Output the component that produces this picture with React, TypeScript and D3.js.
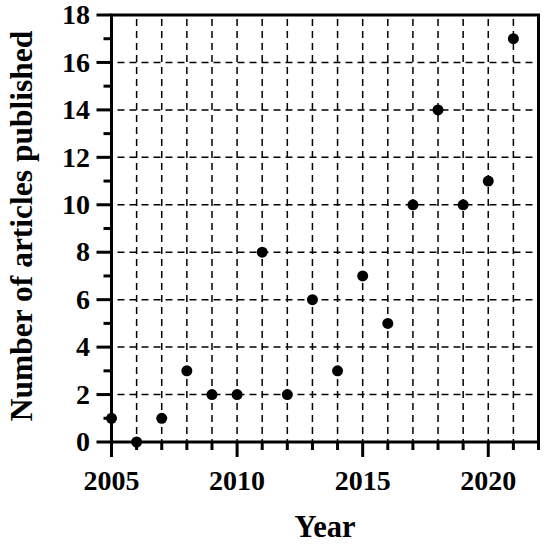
import React from "react";
import * as d3 from "d3";

const years = [2005, 2006, 2007, 2008, 2009, 2010, 2011, 2012, 2013, 2014, 2015, 2016, 2017, 2018, 2019, 2020, 2021];
const articles = [1, 0, 1, 3, 2, 2, 8, 2, 6, 3, 7, 5, 10, 14, 10, 11, 17];
const xTickLabels = [2005, 2010, 2015, 2020];
const yTickLabels = [0, 2, 4, 6, 8, 10, 12, 14, 16, 18];

const W = 550, H = 544;
const left = 111.5, right = 538.5, top = 15, bottom = 442;

export default function App() {
  const x = d3.scaleLinear().domain([2005, 2022]).range([left, right]);
  const y = d3.scaleLinear().domain([0, 18]).range([bottom, top]);
  const font = "'Liberation Serif', 'Times New Roman', serif";
  const xMinor = d3.range(2005, 2023);
  const yMinor = d3.range(0, 19);
  const vGrid = d3.range(2006, 2022);
  const hGrid = [2, 4, 6, 8, 10, 12, 14, 16];
  return (
    <svg width={W} height={H} style={{ position: "absolute", left: 0, top: 0, background: "#fff" }}>
      <g stroke="#000" strokeWidth={1.5} strokeDasharray="7,5" fill="none">
        {vGrid.map((v) => (
          <line key={"vg" + v} x1={x(v)} x2={x(v)} y1={top + 4} y2={bottom} />
        ))}
        {hGrid.map((v) => (
          <line key={"hg" + v} x1={left + 6} x2={right} y1={y(v)} y2={y(v)} />
        ))}
      </g>
      <g stroke="#000" strokeWidth={3}>
        {xMinor.map((v) => (
          <line key={"xt" + v} x1={x(v)} x2={x(v)} y1={bottom} y2={bottom + (v % 5 === 0 ? 15 : 8)} />
        ))}
        {yMinor.map((v) => (
          <line key={"yt" + v} x1={left} x2={left - (v % 2 === 0 ? 15 : 8)} y1={y(v)} y2={y(v)} />
        ))}
        <rect x={left} y={top} width={right - left} height={bottom - top} fill="none" />
      </g>
      <g fill="#000">
        {years.map((yr, i) => (
          <circle key={"p" + yr} cx={x(yr)} cy={y(articles[i])} r={5.5} />
        ))}
      </g>
      <g fontFamily={font} fontWeight="bold" fontSize={28} fill="#000">
        {xTickLabels.map((v) => (
          <text key={"xl" + v} x={x(v)} y={490} textAnchor="middle">{v}</text>
        ))}
        {yTickLabels.map((v) => (
          <text key={"yl" + v} x={90} y={y(v)} dy="0.33em" textAnchor="end">{v}</text>
        ))}
      </g>
      <text x={(left + right) / 2} y={537} textAnchor="middle" fontFamily={font} fontWeight="bold" fontSize={30.5}>Year</text>
      <text transform="translate(31.5, 226) rotate(-90)" textAnchor="middle" fontFamily={font} fontWeight="bold" fontSize={31.5}>Number of articles published</text>
    </svg>
  );
}
